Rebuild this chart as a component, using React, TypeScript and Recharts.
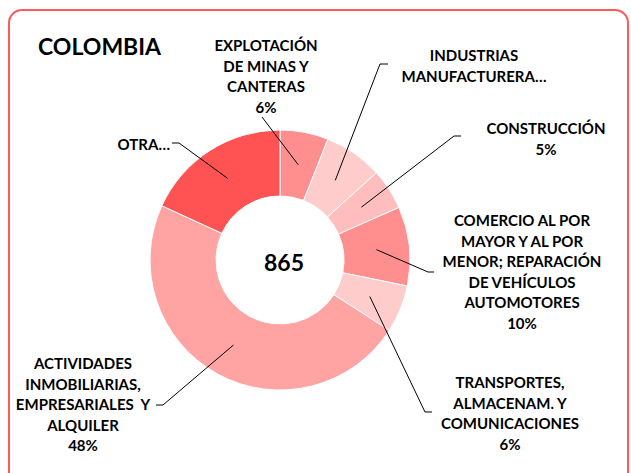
import { PieChart, Pie, Cell } from 'recharts';

// Colombia - distribución por sector (total 865)
const categories = [
  'EXPLOTACIÓN DE MINAS Y CANTERAS',
  'INDUSTRIAS MANUFACTURERA…',
  'CONSTRUCCIÓN',
  'COMERCIO AL POR MAYOR Y AL POR MENOR; REPARACIÓN DE VEHÍCULOS AUTOMOTORES',
  'TRANSPORTES, ALMACENAM. Y COMUNICACIONES',
  'ACTIVIDADES INMOBILIARIAS, EMPRESARIALES Y ALQUILER',
  'OTRA…',
];
const values = [52, 63, 44, 85, 51, 413, 157];
const labelLines = [
  ['EXPLOTACIÓN', 'DE MINAS Y', 'CANTERAS'],
  ['INDUSTRIAS', 'MANUFACTURERA…'],
  ['CONSTRUCCIÓN'],
  ['COMERCIO AL POR', 'MAYOR Y AL POR', 'MENOR; REPARACIÓN', 'DE VEHÍCULOS', 'AUTOMOTORES'],
  ['TRANSPORTES,', 'ALMACENAM. Y', 'COMUNICACIONES'],
  ['ACTIVIDADES', 'INMOBILIARIAS,', 'EMPRESARIALES  Y', 'ALQUILER'],
  ['OTRA…'],
];
const showPercent = [true, false, true, true, true, true, false];
const total = values.reduce((a, b) => a + b, 0);

const colors = ['#FF8F8F', '#FFCCCC', '#FFBDBD', '#FF8F8F', '#FFCCCC', '#FFA3A3', '#FF5252'];

// label placement: elbow point, end of horizontal tick, text anchor
const layout = [
  { elbow: [262, 117], end: [262, 117], x: 266, y: 45, anchor: 'middle' },
  { elbow: [380, 64], end: [388, 64], x: 474, y: 55, anchor: 'middle' },
  { elbow: [454, 136], end: [461, 136], x: 546, y: 128, anchor: 'middle' },
  { elbow: [428, 272], end: [434, 272], x: 522, y: 220, anchor: 'middle' },
  { elbow: [425, 412], end: [432, 412], x: 510, y: 382, anchor: 'middle' },
  { elbow: [163, 405], end: [156, 405], x: 83, y: 363, anchor: 'middle' },
  { elbow: [179, 143], end: [172, 143], x: 170, y: 144, anchor: 'end' },
];

const data = categories.map((name, i) => ({ name, value: values[i] }));
const RAD = Math.PI / 180;
const font = 'Lato, "Open Sans", sans-serif';

const renderLabel = (props: any) => {
  const { cx, cy, midAngle, innerRadius, outerRadius, index } = props;
  const r = (innerRadius + outerRadius) / 2;
  const px = cx + r * Math.cos(-midAngle * RAD);
  const py = cy + r * Math.sin(-midAngle * RAD);
  const l = layout[index];
  const lines = [...labelLines[index]];
  if (showPercent[index]) lines.push(`${Math.round((values[index] / total) * 100)}%`);
  return (
    <g key={`lbl-${index}`}>
      <polyline
        points={`${px},${py} ${l.elbow[0]},${l.elbow[1]} ${l.end[0]},${l.end[1]}`}
        fill="none"
        stroke="#000"
        strokeWidth={1}
      />
      {lines.map((t, j) => (
        <text
          key={j}
          x={l.x}
          y={l.y + j * 20.6}
          textAnchor={l.anchor as any}
          dominantBaseline="central"
          fontFamily={font}
          fontWeight={700}
          fontSize={15}
          fill="#000"
          style={{ whiteSpace: 'pre' }}
        >
          {t}
        </text>
      ))}
      {index === 0 && (
        <text
          x={cx + 4}
          y={cy + 2}
          textAnchor="middle"
          dominantBaseline="central"
          fontFamily={font}
          fontWeight={700}
          fontSize={23}
          fill="#000"
        >
          {total}
        </text>
      )}
    </g>
  );
};

export default function App() {
  return (
    <div style={{ position: 'absolute', left: 0, top: 0, width: 631, height: 473, background: '#fff', overflow: 'hidden' }}>
      <div
        style={{
          position: 'absolute',
          left: 8,
          top: 9,
          width: 621,
          height: 480,
          border: '2px solid #FF5A5A',
          borderRadius: 14,
          boxSizing: 'border-box',
        }}
      />
      <div
        style={{
          position: 'absolute',
          left: 38,
          top: 32,
          fontFamily: font,
          fontWeight: 700,
          fontSize: 23,
          color: '#000',
        }}
      >
        COLOMBIA
      </div>
      <div style={{ position: 'absolute', left: 0, top: 0 }}>
        <PieChart width={631} height={473} margin={{ top: 0, right: 0, bottom: 0, left: 0 }}>
          <Pie
            data={data}
            dataKey="value"
            nameKey="name"
            cx={280}
            cy={260}
            innerRadius={64}
            outerRadius={130}
            startAngle={90}
            endAngle={-270}
            stroke="#fff"
            strokeWidth={1}
            label={renderLabel}
            labelLine={false}
            isAnimationActive={false}
          >
            {data.map((d, i) => (
              <Cell key={d.name} fill={colors[i]} />
            ))}
          </Pie>
        </PieChart>
      </div>
    </div>
  );
}
